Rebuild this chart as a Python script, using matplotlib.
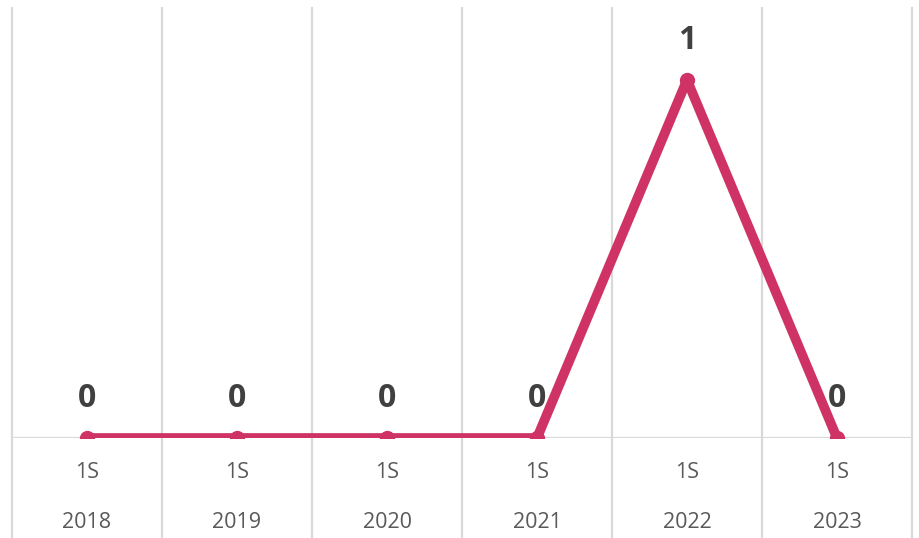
import matplotlib.pyplot as plt

# datos por semestre
years = ["2018", "2019", "2020", "2021", "2022", "2023"]
semesters = ["1S", "1S", "1S", "1S", "1S", "1S"]
values = [0, 0, 0, 0, 1, 0]

plt.rcParams['font.family'] = ['Open Sans', 'DejaVu Sans']

fig = plt.figure(figsize=(9.19, 5.38), dpi=100)
ax = fig.add_axes([12/919, 100/538, 900/919, 431/538])

x = list(range(len(values)))
ax.set_xlim(-0.5, len(values) - 0.5)
ax.set_ylim(0, 431/358)

# lineas verticales entre categorias (bajan hasta las etiquetas)
for b in [i - 0.5 for i in range(len(values) + 1)]:
    ax.vlines(b, -100/358, 431/358, color="#D9D9D9", lw=1.6, clip_on=False, zorder=1)
ax.axhline(0, color="#D9D9D9", lw=1.6, zorder=1)

# etiquetas de valor
for xi, v in zip(x, values):
    ax.annotate(str(v), (xi, v), xytext=(0, 28.5), textcoords="offset points",
                ha="center", va="center", fontsize=23, fontweight="bold",
                color="#404040", zorder=2)

ax.plot(x, values, color="#CF3366", lw=7, solid_capstyle="round",
        solid_joinstyle="round", marker="o", markersize=10, zorder=3)

# eje de categorias en dos niveles
for xi, s, yr in zip(x, semesters, years):
    ax.annotate(s, (xi, 0), xytext=(0, -25), textcoords="offset points",
                ha="center", va="center", fontsize=15.5, color="#595959")
    ax.annotate(yr, (xi, 0), xytext=(0, -60.5), textcoords="offset points",
                ha="center", va="center", fontsize=15.5, color="#595959")

ax.set_xticks([])
ax.set_yticks([])
for sp in ax.spines.values():
    sp.set_visible(False)

fig.savefig("out.png", dpi=100)
